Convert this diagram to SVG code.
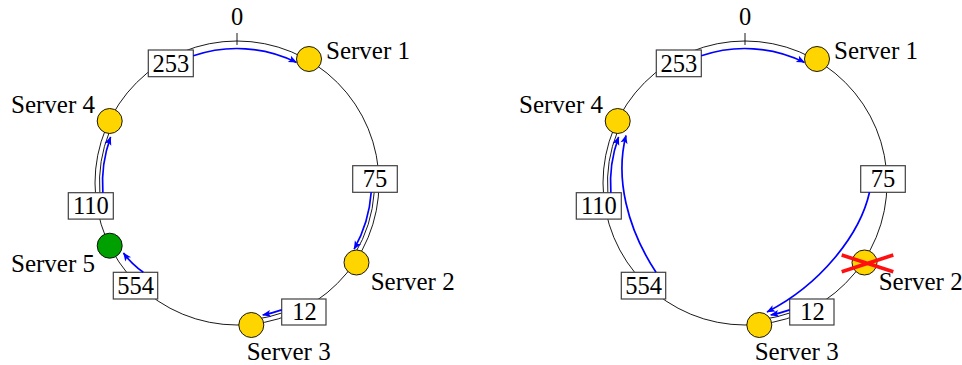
<svg xmlns="http://www.w3.org/2000/svg" width="962" height="365" viewBox="0 0 962 365">
<style>
.ring{fill:none;stroke:#000;stroke-width:0.9}
.srv{fill:#FFD500;stroke:#000;stroke-width:0.9}
.srv5{fill:#00A000;stroke:#000;stroke-width:0.9}
.key{fill:#fff;stroke:#404040;stroke-width:1.2}
.kt{font-family:"Liberation Serif","DejaVu Serif",serif;font-size:24.5px;text-anchor:middle;fill:#000}
.lbl{font-family:"Liberation Serif","DejaVu Serif",serif;font-size:25px;fill:#000}
.arr{fill:none;stroke:#0000FF;stroke-width:1.7;marker-end:url(#ah)}
.cross{stroke:#FF1010;stroke-width:3.6;stroke-linecap:butt}
</style>
<defs>
<marker id="ah" viewBox="-9 -4.5 10 9" refX="0" refY="0" markerWidth="10" markerHeight="9" markerUnits="userSpaceOnUse" orient="auto">
<path d="M0.5,0 L-8,-3.6 L-6,0 L-8,3.6 z" fill="#0000FF"/>
</marker>
</defs>

<!-- LEFT RING -->
<g id="ringL">
<circle class="ring" cx="237" cy="183" r="142"/>
<path class="ring" d="M237,33 V45"/>
<text class="kt" x="237" y="25">0</text>
<path class="ring" d="M99.84,192.7 A137.5,137.5 0 0 1 109.51,131.49"/>
<path class="ring" d="M374.2,192.3 A137.5,137.5 0 0 1 354.9,253.8"/>
<path class="ring" d="M281.7,313 A137.5,137.5 0 0 1 256.1,319.2"/>
</g>

<!-- RIGHT RING -->
<g id="ringR">
<circle class="ring" cx="745" cy="183" r="142"/>
<path class="ring" d="M745,33 V45"/>
<text class="kt" x="745" y="25">0</text>
<path class="ring" d="M607.84,192.7 A137.5,137.5 0 0 1 617.51,131.49"/>
<path class="ring" d="M789.7,313 A137.5,137.5 0 0 1 764.1,319.2"/>
</g>

<!-- LEFT KEYS -->
<g id="kL253"><rect class="key" x="148.3" y="50" width="45" height="26.7"/><text class="kt" x="170.8" y="71.5">253</text></g>
<g id="kL75"><rect class="key" x="352.7" y="165.7" width="44.6" height="26.6"/><text class="kt" x="375" y="187.2">75</text></g>
<g id="kL110"><rect class="key" x="68.3" y="192.7" width="45" height="26.4"/><text class="kt" x="90.8" y="214.2">110</text></g>
<g id="kL554"><rect class="key" x="113.3" y="272.3" width="44.4" height="26.7"/><text class="kt" x="135.5" y="293.8">554</text></g>
<g id="kL12"><rect class="key" x="281.7" y="299" width="44.3" height="26"/><text class="kt" x="304.5" y="320.3">12</text></g>

<!-- RIGHT KEYS -->
<g id="kR253"><rect class="key" x="656.3" y="50" width="45" height="26.7"/><text class="kt" x="678.8" y="71.5">253</text></g>
<g id="kR75"><rect class="key" x="860.7" y="165.7" width="44.6" height="26.6"/><text class="kt" x="883" y="187.2">75</text></g>
<g id="kR110"><rect class="key" x="576.3" y="192.7" width="45" height="26.4"/><text class="kt" x="598.8" y="214.2">110</text></g>
<g id="kR554"><rect class="key" x="621.3" y="272.3" width="44.4" height="26.7"/><text class="kt" x="643.5" y="293.8">554</text></g>
<g id="kR12"><rect class="key" x="789.7" y="299" width="44.3" height="26"/><text class="kt" x="812.5" y="320.3">12</text></g>

<!-- CONNECTORS -->
<g id="connectors">
<path class="arr" d="M193.3,55.8 A134.5,134.5 0 0 1 296.5,62.4"/>
<path class="arr" d="M371.2,192.3 A134.5,134.5 0 0 1 354.1,249.1"/>
<path class="arr" d="M281.7,309.85 A134.5,134.5 0 0 1 262.7,315"/>
<path class="arr" d="M102.85,192.7 A134.5,134.5 0 0 1 110.6,137"/>
<path class="arr" d="M143.3,272.3 Q131.5,264 123.5,253"/>

<path class="arr" d="M701.3,55.8 A134.5,134.5 0 0 1 804.5,62.4"/>
<path class="arr" d="M789.7,309.85 A134.5,134.5 0 0 1 770.7,315"/>
<path class="arr" d="M610.85,192.7 A134.5,134.5 0 0 1 618.6,137"/>
<path class="arr" d="M656,272.3 C627,228 615,178 626,135.5"/>
<path class="arr" d="M869.5,192.3 C860,235 820,285 767,312"/>
</g>

<!-- LEFT SERVERS -->
<g id="sL1"><circle class="srv" cx="309" cy="59" r="12.5"/><text class="lbl" x="326" y="59.3">Server 1</text></g>
<g id="sL2"><circle class="srv" cx="356.5" cy="262.5" r="12.5"/><text class="lbl" x="370.7" y="290">Server 2</text></g>
<g id="sL3"><circle class="srv" cx="251.3" cy="325" r="12.5"/><text class="lbl" x="246.7" y="360">Server 3</text></g>
<g id="sL4"><circle class="srv" cx="109.7" cy="121" r="12.5"/><text class="lbl" x="95" y="113.3" text-anchor="end">Server 4</text></g>
<g id="sL5"><circle class="srv5" cx="109.7" cy="245.7" r="12.5"/><text class="lbl" x="95" y="271.7" text-anchor="end">Server 5</text></g>

<!-- RIGHT SERVERS -->
<g id="sR1"><circle class="srv" cx="817" cy="59" r="12.5"/><text class="lbl" x="834" y="59.3">Server 1</text></g>
<g id="sR2"><circle class="srv" cx="864.5" cy="262.5" r="12.5"/>
<path class="cross" d="M841.7,255 L893.3,271.7 M841.7,271.7 L893.3,255"/>
<text class="lbl" x="878.7" y="290">Server 2</text></g>
<g id="sR3"><circle class="srv" cx="759.3" cy="325" r="12.5"/><text class="lbl" x="754.7" y="360">Server 3</text></g>
<g id="sR4"><circle class="srv" cx="617.7" cy="121" r="12.5"/><text class="lbl" x="603" y="113.3" text-anchor="end">Server 4</text></g>
</svg>
